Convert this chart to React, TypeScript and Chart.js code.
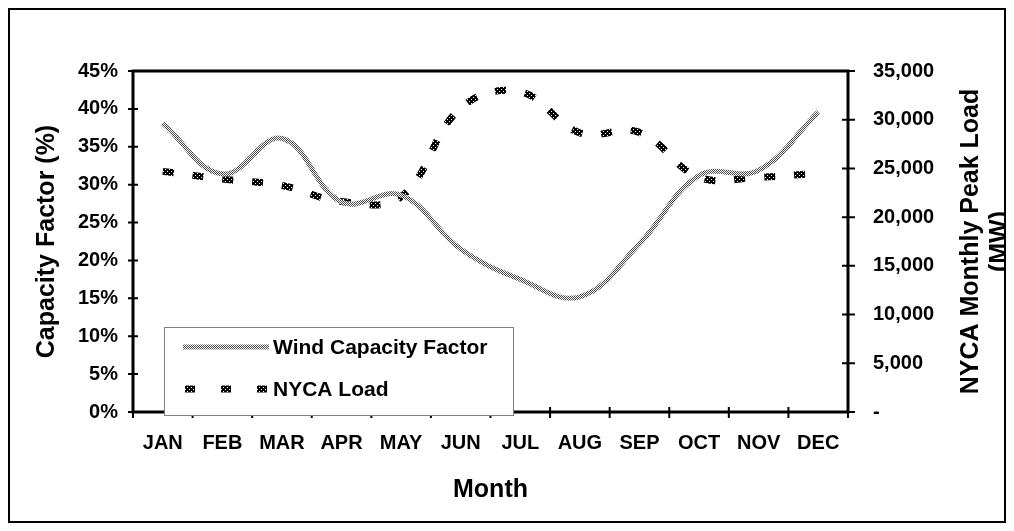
import { useEffect, useRef } from 'react';
import { Chart, registerables } from 'chart.js';

Chart.register(...registerables);

const months = ['JAN', 'FEB', 'MAR', 'APR', 'MAY', 'JUN', 'JUL', 'AUG', 'SEP', 'OCT', 'NOV', 'DEC'];
const windCapacityFactor = [38.1, 31.4, 36.1, 27.7, 28.6, 21.5, 17.5, 15.2, 22.2, 31.2, 31.9, 39.6];
const nycaLoad = [24700, 23900, 23250, 21600, 22100, 31200, 32850, 28650, 28700, 24100, 24100, 24500];
const leftTickStep = 5;
const leftMax = 45;
const rightTickStep = 5000;
const rightMax = 35000;
const seriesNames = ['Wind Capacity Factor', 'NYCA Load'];
const xTitle = 'Month';
const leftTitle = 'Capacity Factor (%)';
const rightTitle = ['NYCA Monthly Peak Load', '(MW)'];

const FONT = '"Liberation Sans", Arial, sans-serif';

function makePattern(size: number, fill: string, dot: string, dotCells: number[][]) {
  const c = document.createElement('canvas');
  c.width = size;
  c.height = size;
  const g = c.getContext('2d')!;
  g.fillStyle = fill;
  g.fillRect(0, 0, size, size);
  g.fillStyle = dot;
  dotCells.forEach(([x, y]) => g.fillRect(x, y, 1, 1));
  return g.createPattern(c, 'repeat')!;
}

export default function App() {
  const ref = useRef<HTMLCanvasElement>(null);

  useEffect(() => {
    const canvas = ref.current!;
    const ctx0 = canvas.getContext('2d')!;
    const windPattern = makePattern(2, '#ffffff', '#4a4a4a', [[0, 0], [1, 1]]);
    const loadPattern = makePattern(4, '#000000', '#ffffff', [[1, 1], [3, 3]]);

    const decor = {
      id: 'decor',
      afterDraw(chart: any) {
        const { ctx, chartArea: a, scales } = chart;
        ctx.save();
        ctx.strokeStyle = '#000';
        // outer frame
        ctx.lineWidth = 2;
        ctx.strokeRect(1, 1, 996, 513);
        // plot frame
        ctx.lineWidth = 3;
        ctx.strokeRect(a.left, a.top, a.right - a.left, a.bottom - a.top);
        // tick marks crossing axes
        ctx.lineWidth = 2;
        ctx.beginPath();
        scales.y.ticks.forEach((t: any) => {
          const p = scales.y.getPixelForValue(t.value);
          ctx.moveTo(a.left - 5, p);
          ctx.lineTo(a.left + 5, p);
        });
        scales.y1.ticks.forEach((t: any) => {
          const p = scales.y1.getPixelForValue(t.value);
          ctx.moveTo(a.right - 6, p);
          ctx.lineTo(a.right + 7, p);
        });
        const xs = scales.x;
        const half = (xs.getPixelForValue(1) - xs.getPixelForValue(0)) / 2;
        for (let i = 0; i <= months.length; i++) {
          const p = i < months.length ? xs.getPixelForValue(i) - half : xs.getPixelForValue(months.length - 1) + half;
          ctx.moveTo(p, a.bottom - 5);
          ctx.lineTo(p, a.bottom + 6);
        }
        ctx.stroke();

        // titles
        ctx.fillStyle = '#000';
        ctx.font = `bold 25px ${FONT}`;
        ctx.textAlign = 'center';
        ctx.textBaseline = 'middle';
        const cy = (a.top + a.bottom) / 2;
        ctx.save();
        ctx.translate(39, cy);
        ctx.rotate(-Math.PI / 2);
        ctx.fillText(leftTitle, 0, 0);
        ctx.restore();
        ctx.save();
        ctx.translate(963, cy);
        ctx.rotate(-Math.PI / 2);
        ctx.fillText(rightTitle[0], 0, 0);
        ctx.restore();
        ctx.save();
        ctx.translate(992, cy);
        ctx.rotate(-Math.PI / 2);
        ctx.fillText(rightTitle[1], 0, 0);
        ctx.restore();
        ctx.textBaseline = 'alphabetic';
        ctx.fillText(xTitle, (a.left + a.right) / 2, 489);

        // legend
        const lx = 156, ly = 319, lw = 349, lh = 88;
        ctx.fillStyle = '#fff';
        ctx.fillRect(lx, ly, lw, lh);
        ctx.strokeStyle = '#808080';
        ctx.lineWidth = 1;
        ctx.strokeRect(lx + 0.5, ly + 0.5, lw, lh);
        ctx.lineWidth = 5;
        ctx.strokeStyle = windPattern;
        ctx.beginPath();
        ctx.moveTo(175, 339);
        ctx.lineTo(261, 339);
        ctx.stroke();
        ctx.lineWidth = 7;
        ctx.strokeStyle = loadPattern;
        ctx.setLineDash([10, 26]);
        ctx.beginPath();
        ctx.moveTo(177, 381);
        ctx.lineTo(261, 381);
        ctx.stroke();
        ctx.setLineDash([]);
        ctx.fillStyle = '#000';
        ctx.font = `bold 21px ${FONT}`;
        ctx.textAlign = 'left';
        ctx.textBaseline = 'middle';
        ctx.fillText(seriesNames[0], 265, 340);
        ctx.fillText(seriesNames[1], 265, 382);
        ctx.restore();
      },
    };

    const tickFont = { family: FONT, size: 20, weight: 'bold' as const };

    const chart = new Chart(ctx0, {
      type: 'line',
      data: {
        labels: months,
        datasets: [
          {
            label: seriesNames[0],
            data: windCapacityFactor,
            yAxisID: 'y',
            borderColor: windPattern as any,
            borderWidth: 5,
            tension: 0.4,
            pointRadius: 0,
            fill: false,
            borderCapStyle: 'butt',
            borderJoinStyle: 'round',
          },
          {
            label: seriesNames[1],
            data: nycaLoad,
            yAxisID: 'y1',
            borderColor: loadPattern as any,
            borderWidth: 7,
            borderDash: [11, 19],
            tension: 0.4,
            pointRadius: 0,
            fill: false,
            borderCapStyle: 'butt',
          },
        ],
      },
      options: {
        animation: false,
        responsive: false,
        maintainAspectRatio: false,
        events: [],
        layout: { padding: { top: 63, left: 0, right: 0, bottom: 0 } },
        plugins: { legend: { display: false }, tooltip: { enabled: false }, title: { display: false } },
        scales: {
          x: {
            type: 'category',
            offset: true,
            grid: { display: false, drawTicks: false },
            border: { display: false },
            ticks: { font: tickFont, color: '#000', padding: 19, maxRotation: 0, autoSkip: false },
            afterFit: (s: any) => { s.height = 111; },
          },
          y: {
            position: 'left',
            min: 0,
            max: leftMax,
            grid: { display: false, drawTicks: false },
            border: { display: false },
            ticks: { stepSize: leftTickStep, font: tickFont, color: '#000', padding: 15, callback: (v: any) => `${v}%` },
            afterFit: (s: any) => { s.width = 125; },
          },
          y1: {
            position: 'right',
            min: 0,
            max: rightMax,
            grid: { display: false, drawTicks: false },
            border: { display: false },
            ticks: {
              stepSize: rightTickStep,
              font: tickFont,
              color: '#000',
              padding: 25,
              callback: (v: any) => (Number(v) === 0 ? '-' : Number(v).toLocaleString('en-US')),
            },
            afterFit: (s: any) => { s.width = 166; },
          },
        },
      },
      plugins: [decor],
    });
    return () => chart.destroy();
  }, []);

  return <canvas ref={ref} width={1006} height={515} style={{ display: 'block' }} />;
}
